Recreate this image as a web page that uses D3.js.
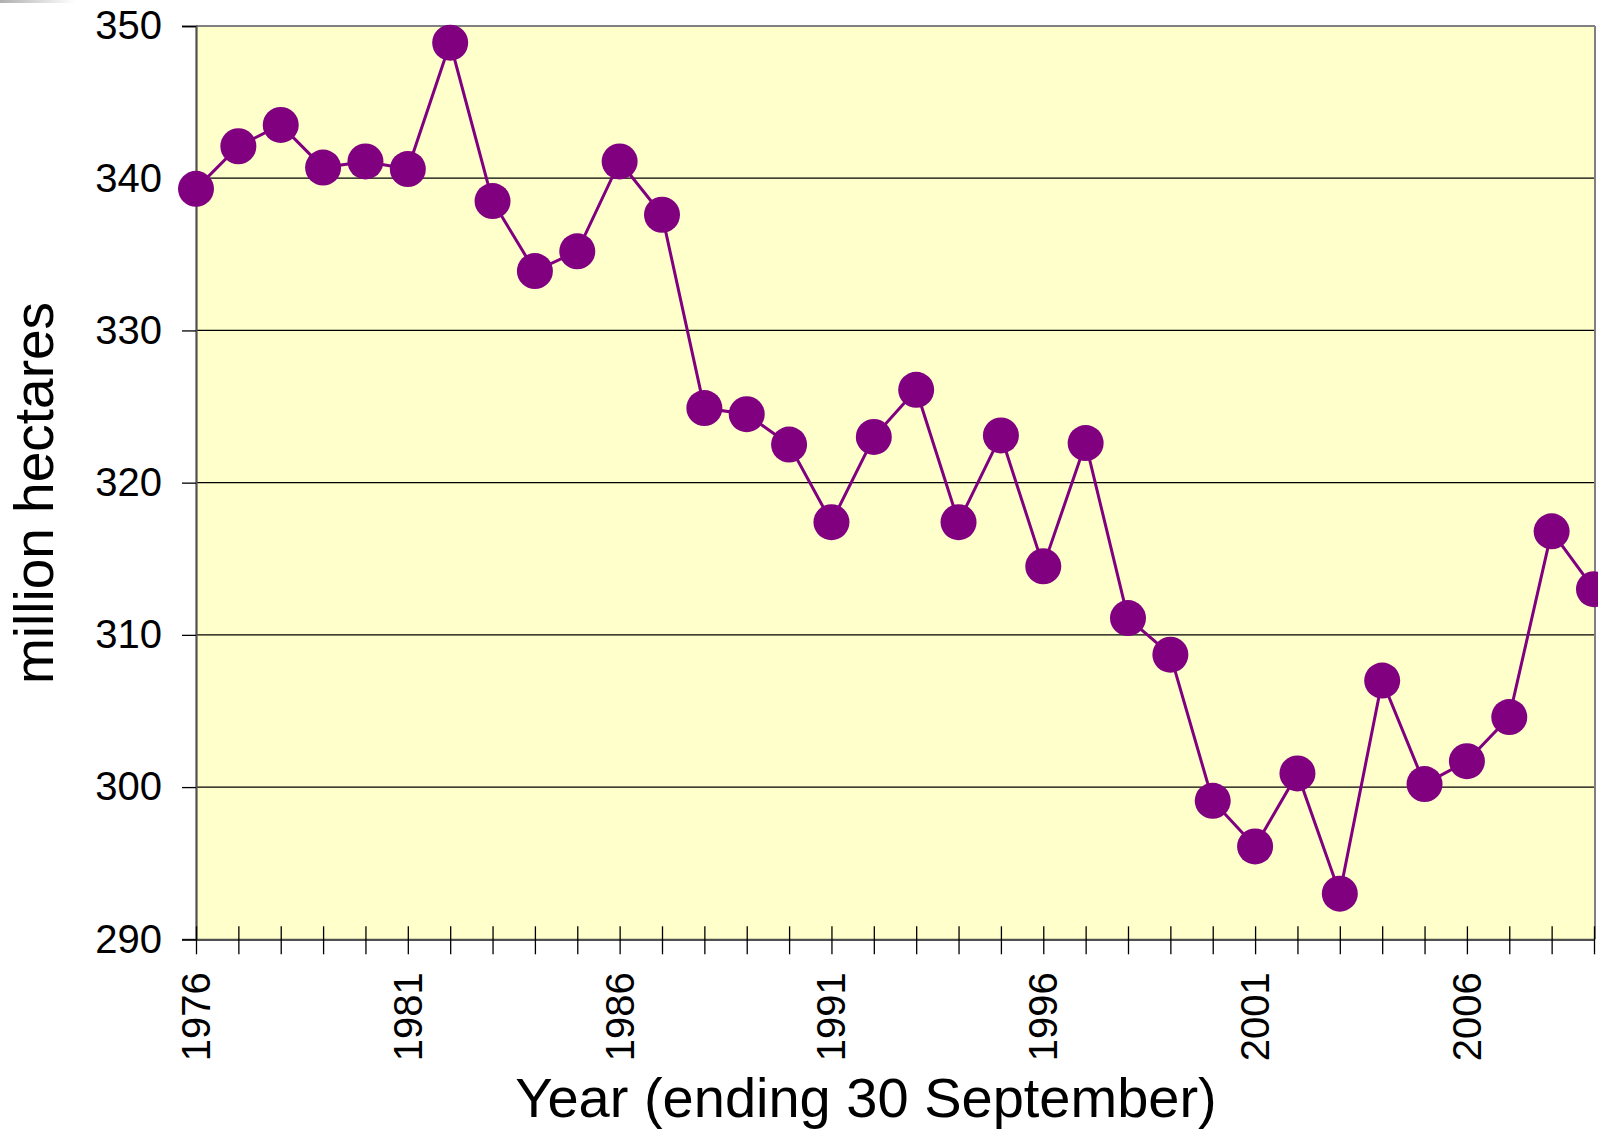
<!DOCTYPE html>
<html>
<head>
<meta charset="utf-8">
<script src="https://cdn.jsdelivr.net/npm/d3@7"></script>
<style>
  html, body { margin: 0; padding: 0; background: #ffffff; }
  svg { display: block; }
  text { font-family: "Liberation Sans", Arial, sans-serif; fill: #000; }
</style>
</head>
<body>
<svg id="chart" width="1598" height="1132"></svg>
<script>
// ---- Data ----
const years = [1976,1977,1978,1979,1980,1981,1982,1983,1984,1985,1986,1987,1988,1989,1990,1991,1992,1993,1994,1995,1996,1997,1998,1999,2000,2001,2002,2003,2004,2005,2006,2007,2008,2009];
const area = [339.3,342.1,343.5,340.7,341.1,340.6,348.9,338.5,333.9,335.2,341.1,337.6,324.9,324.5,322.5,317.4,323.0,326.1,317.4,323.1,314.5,322.6,311.1,308.7,299.1,296.1,300.9,293.0,307.0,300.2,301.7,304.6,316.8,313.0];
const yTicks = [290,300,310,320,330,340,350];
const xLabelYears = [1976,1981,1986,1991,1996,2001,2006];
const yTitle = "million hectares";
const xTitle = "Year (ending 30 September)";

// ---- Layout ----
const svg = d3.select("#chart");
const pL = 196, pR = 1594, pT = 26, pB = 939.3;

const x = d3.scaleLinear().domain([1976, 2009]).range([pL, pR]);
const y = d3.scaleLinear().domain([290, 350]).range([pB, pT]);

// top-left artifact bar
const defs = svg.append("defs");
const grad = defs.append("linearGradient").attr("id","g1").attr("x1","0").attr("x2","1");
grad.append("stop").attr("offset","0").attr("stop-color","#b0b0b0");
grad.append("stop").attr("offset","1").attr("stop-color","#ffffff");
svg.append("rect").attr("x",0).attr("y",0).attr("width",75).attr("height",3).attr("fill","url(#g1)");

// plot background
svg.append("rect")
  .attr("x", pL).attr("y", pT)
  .attr("width", pR - pL).attr("height", pB - pT)
  .attr("fill", "#FFFFCC");

// gridlines
svg.append("g").selectAll("line")
  .data(yTicks.filter(d => d !== 290 && d !== 350))
  .join("line")
  .attr("x1", pL).attr("x2", pR)
  .attr("y1", d => y(d)).attr("y2", d => y(d))
  .attr("stroke", "#000").attr("stroke-width", 1.2);

// plot border (top & right)
svg.append("line").attr("x1", pL).attr("x2", pR + 1).attr("y1", pT).attr("y2", pT)
  .attr("stroke", "#808080").attr("stroke-width", 2);
svg.append("line").attr("x1", pR + 1).attr("x2", pR + 1).attr("y1", pT).attr("y2", pB)
  .attr("stroke", "#808080").attr("stroke-width", 2);

// Y axis
const yAxis = d3.axisLeft(y).tickValues(yTicks).tickSize(14).tickPadding(20).tickFormat(d3.format("d"));
const gy = svg.append("g").attr("transform", `translate(${pL},0)`).call(yAxis);
gy.select(".domain").attr("stroke", "#505050").attr("stroke-width", 2.2);
gy.selectAll(".tick line").attr("stroke", "#000").attr("stroke-width", 1.3);
gy.selectAll(".tick text").attr("font-size", 40).attr("font-family", "Liberation Sans, Arial, sans-serif").attr("fill", "#000");

// X axis (ticks crossing)
const gx = svg.append("g").attr("transform", `translate(0,${pB})`);
const xAxis = d3.axisBottom(x).tickValues(years).tickSize(15).tickSizeOuter(0).tickFormat("");
gx.call(xAxis);
gx.select(".domain").attr("stroke", "#505050").attr("stroke-width", 2.2);
gx.selectAll(".tick line").attr("y1", -13).attr("y2", 15).attr("stroke", "#000").attr("stroke-width", 1.3);

// X labels rotated
svg.append("g").selectAll("text")
  .data(xLabelYears)
  .join("text")
  .attr("transform", d => `translate(${x(d)},${pB + 33}) rotate(-90)`)
  .attr("text-anchor", "end")
  .attr("dy", "0.35em")
  .attr("font-size", 40)
  .text(d => d);

// line
const line = d3.line().x((d, i) => x(years[i])).y(d => y(d));
svg.append("path").datum(area)
  .attr("d", line)
  .attr("fill", "none")
  .attr("stroke", "#800080")
  .attr("stroke-width", 3);

// markers
svg.append("g").selectAll("circle")
  .data(area)
  .join("circle")
  .attr("cx", (d, i) => x(years[i]))
  .attr("cy", d => y(d))
  .attr("r", 18)
  .attr("fill", "#800080");

// titles
svg.append("text")
  .attr("transform", `translate(53,493) rotate(-90)`)
  .attr("text-anchor", "middle")
  .attr("font-size", 55)
  .text(yTitle);

svg.append("text")
  .attr("x", 866).attr("y", 1117)
  .attr("text-anchor", "middle")
  .attr("font-size", 56)
  .text(xTitle);
</script>
</body>
</html>
